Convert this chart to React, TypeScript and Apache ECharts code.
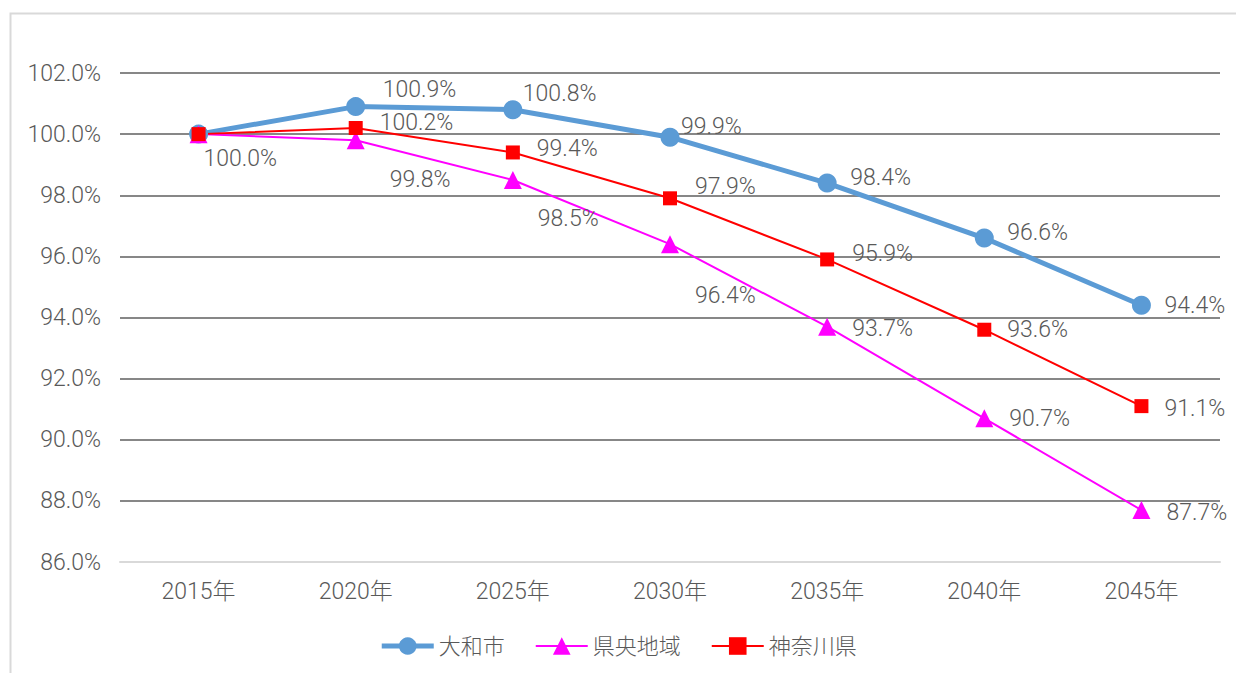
import React, { useEffect, useRef } from "react";
import * as echarts from "echarts";

const categories = ["2015年", "2020年", "2025年", "2030年", "2035年", "2040年", "2045年"];
const seriesNames = ["大和市", "県央地域", "神奈川県"];
const yamato = [100.0, 100.9, 100.8, 99.9, 98.4, 96.6, 94.4];
const kenou = [100.0, 99.8, 98.5, 96.4, 93.7, 90.7, 87.7];
const kanagawa = [100.0, 100.2, 99.4, 97.9, 95.9, 93.6, 91.1];
const yTicks = { min: 86, max: 102, interval: 2 };

// label offsets (layout), null = hidden
const yamatoOffsets: ([number, number] | null)[] = [[5, 24], [27, -17], [10, -16], [11, -11], [23, -6], [23, -6], [23, 0]];
const kenouOffsets: ([number, number] | null)[] = [null, [34, 39], [25, 39], [25, 51], [25, 2], [25, 0], [25, 2]];
const kanagawaOffsets: ([number, number] | null)[] = [null, [24, -6], [24, -4], [25, -12], [25, -6], [23, 0], [23, 2]];

const FONT = "Roboto, 'Noto Sans CJK JP', sans-serif";
const TXT = "#595959";
const FS = 23;
const FW = 300;

function buildData(vals: number[], offs: ([number, number] | null)[]) {
  return vals.map((v, i) => {
    const o = offs[i];
    return {
      value: v,
      label: o
        ? { show: true, position: "inside", align: "left", verticalAlign: "middle", offset: o }
        : { show: false },
    };
  });
}

export default function App() {
  const ref = useRef<HTMLDivElement>(null);
  useEffect(() => {
    document.body.style.margin = "0";
    const chart = echarts.init(ref.current!, null, { renderer: "svg" });
    const labelBase = {
      color: TXT,
      fontSize: FS,
      fontWeight: FW,
      fontFamily: FONT,
      formatter: (p: any) => Number(p.value).toFixed(1) + "%",
    };
    chart.setOption({
      animation: false,
      backgroundColor: "#ffffff",
      graphic: [
        {
          type: "rect",
          shape: { x: 10.5, y: 13.5, width: 1300, height: 700 },
          style: { fill: "none", stroke: "#d9d9d9", lineWidth: 2 },
          silent: true,
          z: -10,
        },
      ],
      grid: { left: 120, right: 16, top: 73, bottom: 111, containLabel: false },
      legend: {
        data: [
          { name: seriesNames[0], itemStyle: { color: "#5B9BD5" }, lineStyle: { width: 5, color: "#5B9BD5" } },
          { name: seriesNames[1], lineStyle: { width: 2, color: "#FF00FF" } },
          { name: seriesNames[2], lineStyle: { width: 2, color: "#FF0000" } },
        ],
        top: 630,
        left: "center",
        itemWidth: 52,
        itemHeight: 22,
        itemGap: 30,
        textStyle: { color: TXT, fontSize: 22, fontWeight: FW, fontFamily: FONT },
      },
      xAxis: {
        type: "category",
        data: categories,
        boundaryGap: true,
        axisLine: { show: true, lineStyle: { color: "#d9d9d9", width: 2 } },
        axisTick: { show: false },
        axisLabel: { color: TXT, fontSize: FS, fontWeight: FW, fontFamily: FONT, margin: 18 },
      },
      yAxis: {
        type: "value",
        min: yTicks.min,
        max: yTicks.max,
        interval: yTicks.interval,
        axisLine: { show: false },
        axisTick: { show: false },
        axisLabel: {
          color: TXT,
          fontSize: FS,
          fontWeight: FW,
          fontFamily: FONT,
          margin: 19,
          formatter: (v: number) => v.toFixed(1) + "%",
        },
        splitLine: {
          show: true,
          lineStyle: {
            color: ["#d9d9d9", "#878787", "#878787", "#878787", "#878787", "#878787", "#878787", "#878787", "#878787"],
            width: 2,
          },
        },
      },
      series: [
        {
          name: seriesNames[0],
          type: "line",
          data: buildData(yamato, yamatoOffsets),
          lineStyle: { color: "#5B9BD5", width: 5 },
          itemStyle: { color: "#5B9BD5" },
          symbol: "circle",
          symbolSize: 19,
          label: labelBase,
        },
        {
          name: seriesNames[1],
          type: "line",
          data: buildData(kenou, kenouOffsets),
          lineStyle: { color: "#FF00FF", width: 2 },
          itemStyle: { color: "#FF00FF" },
          symbol: "triangle",
          symbolSize: 18,
          label: labelBase,
        },
        {
          name: seriesNames[2],
          type: "line",
          data: buildData(kanagawa, kanagawaOffsets),
          lineStyle: { color: "#FF0000", width: 2 },
          itemStyle: { color: "#FF0000" },
          symbol: "rect",
          symbolSize: 14,
          label: labelBase,
        },
      ],
    });
    return () => chart.dispose();
  }, []);
  return <div ref={ref} style={{ width: 1236, height: 673 }} />;
}
